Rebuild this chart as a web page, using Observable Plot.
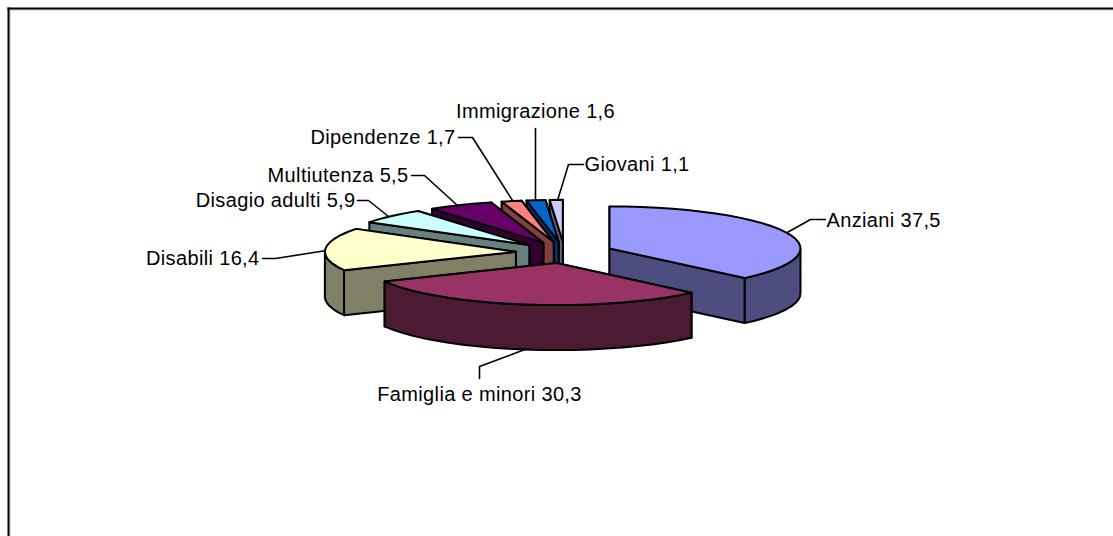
<!DOCTYPE html>
<html>
<head>
<meta charset="utf-8">
<script src="https://cdn.jsdelivr.net/npm/d3@7"></script>
<script src="https://cdn.jsdelivr.net/npm/@observablehq/plot@0.6"></script>
<style>html,body{margin:0;padding:0;background:#fff}svg{display:block}</style>
</head>
<body>
<div id="chart"></div>
<script>
const categories = ["Anziani","Famiglia e minori","Disabili","Disagio adulti","Multiutenza","Dipendenze","Immigrazione","Giovani"];
const shares = [37.5,30.3,16.4,5.9,5.5,1.7,1.6,1.1];
const colors = ["#9999FF","#993366","#FFFFCC","#CCFFFF","#660066","#FF8080","#0066CC","#CCCCFF"];
const drawOrder = [7,6,5,4,3,2,0,1];

// label layout, in page pixels (separate from the data)
const labelAt = [[826,220,"start"],[479,394,"middle"],[259,258,"end"],[355,200,"end"],[408,175,"end"],[455,137,"end"],[535,111,"middle"],[584,164,"start"]];
const leaders = [
  [[785,233],[810,219],[825,219]],
  [[527,348],[479,366],[479,378]],
  [[326,250],[275,258],[262,258]],
  [[388,216],[368,200],[357,200]],
  [[457,205],[424,175],[411,175]],
  [[512,200],[472,137],[458,137]],
  [[535,200],[535,128]],
  [[557,200],[568,164],[583,164]]
];

// pie geometry: x and y are in units of the tilted ellipse's radii
const W = 1113, H = 536, cx = 564, cy = 252, rx = 191, ry = 42;
const explode = 0.255, depth = 45 / ry;
const ux = px => (px - cx) / rx, uy = py => (py - cy) / ry;
const total = d3.sum(shares);
const rad = d => d * Math.PI / 180;
let acc = 0;
const slices = shares.map((v, i) => {
  const a0 = acc / total * 360; acc += v; const a1 = acc / total * 360;
  const mid = rad((a0 + a1) / 2);
  return {i, a0, a1, ox: explode * Math.sin(mid), oy: -explode * Math.cos(mid)};
});
const pt = (s, deg, h = 0) => [s.ox + Math.sin(rad(deg)), s.oy - Math.cos(rad(deg)) + h];
const arc = (s, a, b, h = 0) => {
  const n = Math.max(1, Math.ceil((b - a) / 5)), out = [];
  for (let k = 0; k <= n; ++k) out.push(pt(s, a + (b - a) * k / n, h));
  return out;
};
const rows = [];
const add = (id, fill, pts) => pts.forEach(([x, y]) => rows.push({id, fill, x, y}));
for (const idx of drawOrder) {
  const s = slices[idx], top = colors[idx];
  const c = d3.rgb(top), side = d3.rgb(c.r / 2, c.g / 2, c.b / 2).formatHex();
  const wall = a => [[s.ox, s.oy], pt(s, a), pt(s, a, depth), [s.ox, s.oy + depth]];
  const startVisible = Math.sin(rad(s.a0)) <= 0, endVisible = Math.sin(rad(s.a1)) >= 0;
  if (!startVisible) add(idx + "a", side, wall(s.a0));
  if (!endVisible) add(idx + "b", side, wall(s.a1));
  const f0 = Math.max(s.a0, 90), f1 = Math.min(s.a1, 270);
  if (f1 > f0) add(idx + "c", side, [...arc(s, f0, f1), ...arc(s, f0, f1, depth).reverse()]);
  if (startVisible) add(idx + "d", side, wall(s.a0));
  if (endVisible) add(idx + "e", side, wall(s.a1));
  add(idx + "t", top, [[s.ox, s.oy], ...arc(s, s.a0, s.a1)]);
}
const labels = categories.map((name, i) => ({
  text: `${name} ${String(shares[i]).replace(".", ",")}`,
  x: ux(labelAt[i][0]), y: uy(labelAt[i][1]), anchor: labelAt[i][2]
}));
const leaderRows = leaders.flatMap((l, i) => l.map(([x, y]) => ({id: i, x: ux(x), y: uy(y)})));

const font = '"Liberation Sans", Arial, sans-serif';
const plot = Plot.plot({
  width: W, height: H,
  marginTop: 8, marginLeft: 8, marginRight: 0, marginBottom: 0,
  style: {background: "#fff", fontFamily: font, letterSpacing: "0.35px"},
  x: {domain: [-1, 1], range: [cx - rx, cx + rx], axis: null},
  y: {domain: [-1, 1], range: [cy - ry, cy + ry], axis: null},
  marks: [
    Plot.frame({anchor: "left", stroke: "#c0c0c0", strokeWidth: 1, dx: 1.5}),
    Plot.frame({anchor: "top", stroke: "#c0c0c0", strokeWidth: 1, dy: 1.5}),
    Plot.frame({anchor: "left", stroke: "#000", strokeWidth: 2}),
    Plot.frame({anchor: "top", stroke: "#000", strokeWidth: 2}),
    Plot.line(leaderRows, {x: "x", y: "y", z: "id", stroke: "#000", strokeWidth: 1.6, curve: "linear"}),
    Plot.line(rows, {x: "x", y: "y", z: "id", fill: "fill", stroke: "#000", strokeWidth: 2, strokeLinejoin: "round", curve: "linear-closed"}),
    ...["start", "middle", "end"].map(anchor => Plot.text(labels.filter(d => d.anchor === anchor), {
      x: "x", y: "y", text: "text", textAnchor: anchor, fontSize: 20, fill: "#000", fontFamily: font
    }))
  ]
});
document.getElementById("chart").append(plot);
</script>
</body>
</html>
